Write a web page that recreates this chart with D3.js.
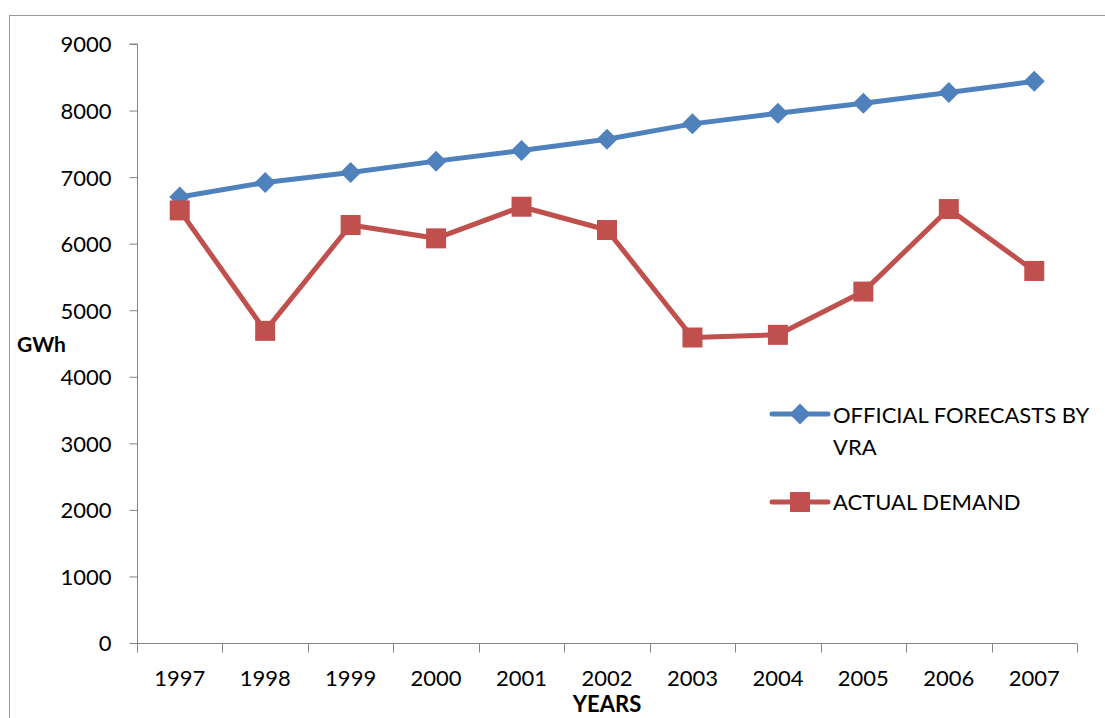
<!DOCTYPE html>
<html>
<head>
<meta charset="utf-8">
<script src="https://cdn.jsdelivr.net/npm/d3@7"></script>
<style>
  html, body { margin: 0; padding: 0; background: #fff; }
  svg { display: block; }
  text { font-family: Lato, "Open Sans", "Liberation Sans", sans-serif; fill: #000; }
</style>
</head>
<body>
<svg id="chart" width="1105" height="718"></svg>
<script>
// Electricity demand in Ghana: VRA forecasts vs actual demand (GWh)
const years = ["1997","1998","1999","2000","2001","2002","2003","2004","2005","2006","2007"];
const forecast = [6700, 6920, 7070, 7240, 7400, 7570, 7800, 7960, 8110, 8270, 8440];
const actual   = [6500, 4690, 6280, 6080, 6555, 6205, 4590, 4630, 5280, 6520, 5590];
const yTicks = [0, 1000, 2000, 3000, 4000, 5000, 6000, 7000, 8000, 9000];
const seriesNames = ["OFFICIAL FORECASTS BY VRA", "ACTUAL DEMAND"];

const blue = "#4F81BD", red = "#C0504D", axisGray = "#868686";

const svg = d3.select("#chart");

// Outer chart frame
svg.append("rect")
  .attr("x", 9.5).attr("y", 15.5)
  .attr("width", 1200).attr("height", 800)
  .attr("fill", "none").attr("stroke", "#9a9a9a").attr("stroke-width", 1);

const plot = { left: 137, right: 1077, top: 44, bottom: 643 };

const x = d3.scaleBand().domain(years).range([plot.left, plot.right]).padding(0);
const y = d3.scaleLinear().domain([0, 9000]).range([plot.bottom, plot.top]);
const cx = d => x(d) + x.bandwidth() / 2;

// Y axis
const yAxis = svg.append("g")
  .attr("transform", `translate(${plot.left + 0.5},0)`)
  .call(d3.axisLeft(y).tickValues(yTicks).tickSize(8).tickPadding(18).tickFormat(d3.format("d")));
yAxis.select(".domain").attr("stroke", axisGray).attr("d", `M-8,${y(9000)}H0V${y(0)}`);
yAxis.selectAll(".tick line").attr("stroke", axisGray);
yAxis.selectAll(".tick text").style("font-size", "22px").attr("dy", "0.36em");

// X axis: ticks at category boundaries
const xAxisG = svg.append("g").attr("transform", `translate(0,${plot.bottom + 0.5})`);
xAxisG.append("line")
  .attr("x1", plot.left).attr("x2", plot.right)
  .attr("stroke", axisGray);
const bounds = years.map(d => x(d)).concat([plot.right]);
xAxisG.selectAll("line.tk").data(bounds).join("line")
  .attr("class", "tk")
  .attr("x1", d => Math.round(d) + 0.5).attr("x2", d => Math.round(d) + 0.5)
  .attr("y1", 0).attr("y2", 9)
  .attr("stroke", axisGray);
xAxisG.selectAll("text").data(years).join("text")
  .attr("x", d => cx(d)).attr("y", 42)
  .attr("text-anchor", "middle")
  .style("font-size", "22px")
  .text(d => d);

// Axis titles
svg.append("text").attr("x", 17).attr("y", 352)
  .style("font-size", "21px").style("font-weight", "bold").text("GWh");
svg.append("text").attr("x", 607).attr("y", 712)
  .attr("text-anchor", "middle")
  .style("font-size", "22px").style("font-weight", "bold").text("YEARS");

// Lines
const line = d3.line().x((d, i) => cx(years[i])).y(d => y(d));

svg.append("path").datum(forecast)
  .attr("d", line).attr("fill", "none")
  .attr("stroke", blue).attr("stroke-width", 5).attr("stroke-linejoin", "round");
svg.append("path").datum(actual)
  .attr("d", line).attr("fill", "none")
  .attr("stroke", red).attr("stroke-width", 5).attr("stroke-linejoin", "round");

function drawDiamond(g, px, py) {
  g.append("path")
    .attr("d", "M0,-10.5L10.5,0L0,10.5L-10.5,0Z")
    .attr("transform", `translate(${px},${py})`)
    .attr("fill", blue);
}
function drawSquare(g, px, py) {
  g.append("rect")
    .attr("x", px - 10).attr("y", py - 10)
    .attr("width", 20).attr("height", 20)
    .attr("fill", red);
}

const markers = svg.append("g");
forecast.forEach((v, i) => drawDiamond(markers, cx(years[i]), y(v)));
const markers2 = svg.append("g");
actual.forEach((v, i) => drawSquare(markers2, cx(years[i]), y(v)));

// Legend
const lg = svg.append("g");
lg.append("line").attr("x1", 772).attr("x2", 828).attr("y1", 414).attr("y2", 414)
  .attr("stroke", blue).attr("stroke-width", 5).attr("stroke-linecap", "round");
drawDiamond(lg, 800, 414);
lg.append("text").attr("x", 833).attr("y", 423).style("font-size", "22px").text("OFFICIAL FORECASTS BY");
lg.append("text").attr("x", 833).attr("y", 455).style("font-size", "22px").text("VRA");

lg.append("line").attr("x1", 772).attr("x2", 828).attr("y1", 502).attr("y2", 502)
  .attr("stroke", red).attr("stroke-width", 5).attr("stroke-linecap", "round");
drawSquare(lg, 800, 502);
lg.append("text").attr("x", 833).attr("y", 510).style("font-size", "22px").text(seriesNames[1]);
</script>
</body>
</html>
